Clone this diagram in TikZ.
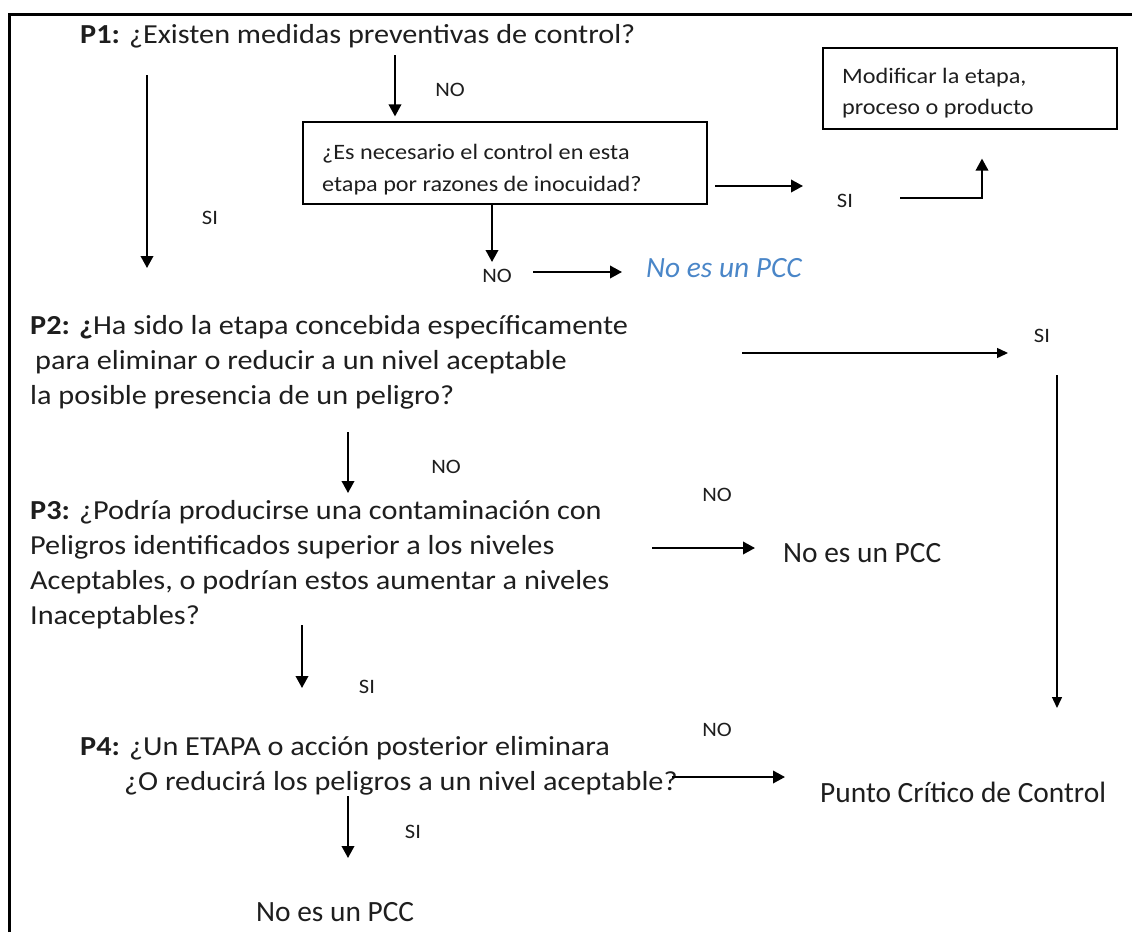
\documentclass[tikz,border=0pt]{standalone}
\usepackage{fontspec}
\setmainfont[FakeStretch=1.1]{Carlito}
\newfontfamily\plainfont{Carlito}
\usetikzlibrary{arrows.meta}
\definecolor{pccblue}{RGB}{74,134,200}
\definecolor{ink}{RGB}{30,30,30}
\begin{document}
\begin{tikzpicture}[x=1pt,y=-1pt,
  question/.style={anchor=base west, inner sep=0pt, align=left, text=ink,
    font=\fontsize{27.5}{35}\selectfont},
  answer/.style={inner sep=0pt, text=ink, font=\fontsize{20.5}{25}\selectfont},
  outcome/.style={anchor=base west, inner sep=0pt, text=ink,
    font=\plainfont\fontsize{29.4}{33}\selectfont},
  stepbox/.style={draw, line width=1.2pt, inner sep=0pt},
  boxtext/.style={anchor=base west, inner sep=0pt, align=left, text=ink},
  flow/.style={line width=2pt, -{Triangle[length=12pt,width=12.5pt]}},
  thinflow/.style={line width=1.4pt, -{Triangle[length=11pt,width=10pt]}},
]
\useasboundingbox (0,0) rectangle (1132,932);

% outer frame (top and left edges)
\draw[line width=3pt] (9.5,932) -- (9.5,14.5) -- (1132,14.5);

% questions (anchored at the baseline of their last line)
\node[question] (p1) at (80,43) {\textbf{P1:} ¿Existen medidas preventivas de control?};
\node[question] (p2) at (30,404) {\textbf{P2: ¿}Ha sido la etapa concebida específicamente\\
  \hspace*{5pt}para eliminar o reducir a un nivel aceptable\\
  la posible presencia de un peligro?};
\node[question] (p3) at (30,624) {\textbf{P3:} ¿Podría producirse una contaminación con\\
  Peligros identificados superior a los niveles\\
  Aceptables, o podrían estos aumentar a niveles\\
  Inaceptables?};
\node[question] (p4) at (80,790) {\textbf{P4:} ¿Un ETAPA o acción posterior eliminara\\
  \hspace*{44pt}¿O reducirá los peligros a un nivel aceptable?};

% boxes
\node[stepbox, minimum width=404pt, minimum height=82pt] (box1) at (505,163) {};
\node[boxtext, font=\fontsize{22}{32}\selectfont] (box1t) at (322,191)
  {¿Es necesario el control en esta\\etapa por razones de inocuidad?};
\node[stepbox, minimum width=294pt, minimum height=81pt] (box2) at (970,88.5) {};
\node[boxtext, font=\fontsize{22}{31}\selectfont] (box2t) at (842,114)
  {Modificar la etapa,\\proceso o producto};

% outcomes
\node[outcome, text=pccblue, font=\plainfont\fontsize{29.4}{33}\selectfont\itshape] (out1) at (646,277) {No es un PCC};
\node[outcome] (out2) at (783,562) {No es un PCC};
\node[outcome] (pcc) at (820,802) {Punto Crítico de Control};
\node[outcome] (out3) at (256,921) {No es un PCC};

% answer labels
\node[answer] (si1) at (210,218) {SI};
\node[answer] (no1) at (450,90) {NO};
\node[answer] (si2) at (845,201) {SI};
\node[answer] (no2) at (497,276) {NO};
\node[answer] (si3) at (1042,336) {SI};
\node[answer] (no3) at (446,467) {NO};
\node[answer] (no4) at (717,495) {NO};
\node[answer] (si4) at (367,687) {SI};
\node[answer] (no5) at (717,730) {NO};
\node[answer] (si5) at (413,832) {SI};

% connector end points
\coordinate (a1s) at (147,75);   \coordinate (a1e) at (147,268);
\coordinate (a2s) at (395,55);
\coordinate (a3s) at (715,186);  \coordinate (a3e) at (803,186);
\coordinate (a4s) at (900,198);  \coordinate (a4k) at (982,198);
\coordinate (a5s) at (492,204);  \coordinate (a5e) at (492,262);
\coordinate (a6s) at (533,272);  \coordinate (a6e) at (622,272);
\coordinate (a7s) at (742,353);  \coordinate (a7e) at (1008,353);
\coordinate (a8s) at (1057,375); \coordinate (a8e) at (1057,708);
\coordinate (a9s) at (348,432);  \coordinate (a9e) at (348,493);
\coordinate (a10s) at (652,548); \coordinate (a10e) at (755,548);
\coordinate (a11s) at (302,625); \coordinate (a11e) at (302,688);
\coordinate (a12s) at (672,777); \coordinate (a12e) at (785,777);
\coordinate (a13s) at (348,796); \coordinate (a13e) at (348,858);

% connectors
\draw[flow] (a1s) -- (a1e);
\draw[flow] (a2s) -- ([yshift=5pt]box1.north -| a2s);
\draw[flow] (a3s) -- (a3e);
\draw[flow] (a4s) -- (a4k) -- ([yshift=-29pt]box2.south -| a4k);
\draw[flow] (box1.south -| a5s) -- (a5e);
\draw[flow] (a6s) -- (a6e);
\draw[thinflow] (a7s) -- (a7e);
\draw[thinflow] (a8s) -- (a8e);
\draw[flow] (a9s) -- (a9e);
\draw[flow] (a10s) -- (a10e);
\draw[flow] (a11s) -- (a11e);
\draw[flow] (a12s) -- (a12e);
\draw[flow] (a13s) -- (a13e);
\end{tikzpicture}
\end{document}
